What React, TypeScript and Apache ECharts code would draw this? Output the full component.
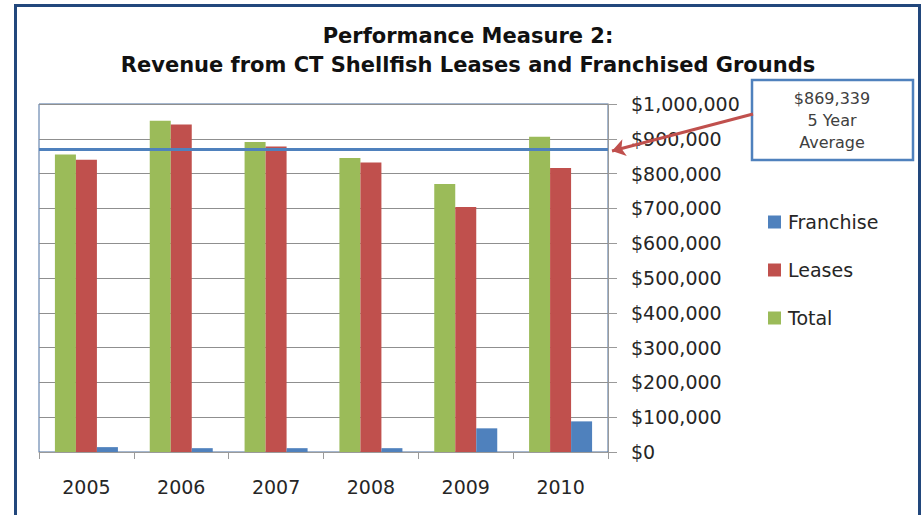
import React, { useEffect, useRef } from "react";
import * as echarts from "echarts";

const years = ["2005", "2006", "2007", "2008", "2009", "2010"];
const totalValues = [855000, 952000, 891000, 845000, 770000, 906000];
const leasesValues = [840000, 941000, 878000, 832000, 704000, 816000];
const franchiseValues = [14000, 11000, 11000, 11000, 68000, 88000];
const fiveYearAverage = 869339;
const titleLines = ["Performance Measure 2:", "Revenue from CT Shellfish Leases and Franchised Grounds"];
const calloutLines = ["$869,339", "5 Year", "Average"];

const FONT = "DejaVu Sans";
const TEXT = "#262626";

export default function App() {
  const ref = useRef<HTMLDivElement>(null);
  useEffect(() => {
    if (!ref.current) return;
    const chart = echarts.init(ref.current, undefined, { renderer: "svg" });
    chart.setOption({
      animation: false,
      backgroundColor: "#ffffff",
      textStyle: { fontFamily: FONT },
      grid: {
        left: 39,
        right: 313,
        top: 104,
        bottom: 63,
        containLabel: false,
        show: true,
        borderColor: "#4a6e9f",
        borderWidth: 1,
        backgroundColor: "transparent",
      },
      legend: {
        orient: "vertical",
        left: 763,
        top: 206,
        itemWidth: 13,
        itemHeight: 13,
        itemGap: 26,
        icon: "rect",
        data: ["Franchise", "Leases", "Total"],
        textStyle: { fontFamily: FONT, fontSize: 19, color: TEXT, lineHeight: 22, padding: [0, 0, 0, 2] },
      },
      xAxis: {
        type: "category",
        data: years,
        axisLine: { show: true, lineStyle: { color: "#9a9a9a", width: 1 } },
        axisTick: { show: true, length: 7, lineStyle: { color: "#9a9a9a" } },
        axisLabel: { fontFamily: FONT, fontSize: 19, color: TEXT, margin: 25 },
        splitLine: { show: false },
      },
      yAxis: {
        type: "value",
        position: "right",
        min: 0,
        max: 1000000,
        interval: 100000,
        axisLine: { show: true, lineStyle: { color: "#9a9a9a", width: 1 } },
        axisTick: { show: true, length: 9, lineStyle: { color: "#9a9a9a" } },
        axisLabel: {
          fontFamily: FONT,
          fontSize: 19,
          color: TEXT,
          margin: 23,
          formatter: (v: number) => "$" + v.toLocaleString("en-US"),
        },
        splitLine: { show: true, lineStyle: { color: "#8f8f8f", width: 1 } },
      },
      series: [
        {
          name: "Total",
          type: "bar",
          data: totalValues,
          barWidth: 21,
          barGap: "0%",
          itemStyle: { color: "#9BBB59" },
          markLine: {
            silent: true,
            symbol: "none",
            label: { show: false },
            lineStyle: { color: "#4F81BD", width: 3, type: "solid" },
            data: [{ yAxis: fiveYearAverage }],
          },
        },
        {
          name: "Leases",
          type: "bar",
          data: leasesValues,
          barWidth: 21,
          barGap: "0%",
          itemStyle: { color: "#C0504D" },
          markLine: {
            silent: true,
            symbol: ["none", "arrow"],
            symbolSize: 13,
            label: { show: false },
            lineStyle: { color: "#C0504D", width: 3, type: "solid" },
            data: [[{ x: 753, y: 114 }, { x: 612, y: 151 }]],
          },
        },
        {
          name: "Franchise",
          type: "bar",
          data: franchiseValues,
          barWidth: 21,
          barGap: "0%",
          itemStyle: { color: "#4F81BD" },
        },
      ],
      graphic: [
        {
          type: "rect",
          silent: true,
          z: 100,
          shape: { x: 15.5, y: 5.5, width: 904, height: 600 },
          style: { fill: "none", stroke: "#22477c", lineWidth: 3 },
        },
        {
          type: "text",
          z: 100,
          x: 468,
          y: 36,
          style: {
            text: titleLines[0],
            textAlign: "center",
            textVerticalAlign: "middle",
            fontFamily: FONT,
            fontWeight: "bold",
            fontSize: 21,
            fill: "#111111",
          },
        },
        {
          type: "text",
          z: 100,
          x: 468,
          y: 65,
          style: {
            text: titleLines[1],
            textAlign: "center",
            textVerticalAlign: "middle",
            fontFamily: FONT,
            fontWeight: "bold",
            fontSize: 21,
            fill: "#111111",
          },
        },
        {
          type: "group",
          z: 100,
          children: [
            {
              type: "rect",
              shape: { x: 752, y: 80, width: 161, height: 80 },
              style: { fill: "#ffffff", stroke: "#4F81BD", lineWidth: 2.5 },
            },
            ...calloutLines.map((t, i) => ({
              type: "text",
              x: 832,
              y: 98 + i * 22,
              style: {
                text: t,
                textAlign: "center",
                textVerticalAlign: "middle",
                fontFamily: FONT,
                fontSize: 16,
                fill: "#404040",
              },
            })),
          ],
        },
      ],
    });
    return () => chart.dispose();
  }, []);
  return (
    <div
      ref={ref}
      style={{ position: "fixed", left: 0, top: 0, width: 921, height: 515, background: "#fff" }}
    />
  );
}
